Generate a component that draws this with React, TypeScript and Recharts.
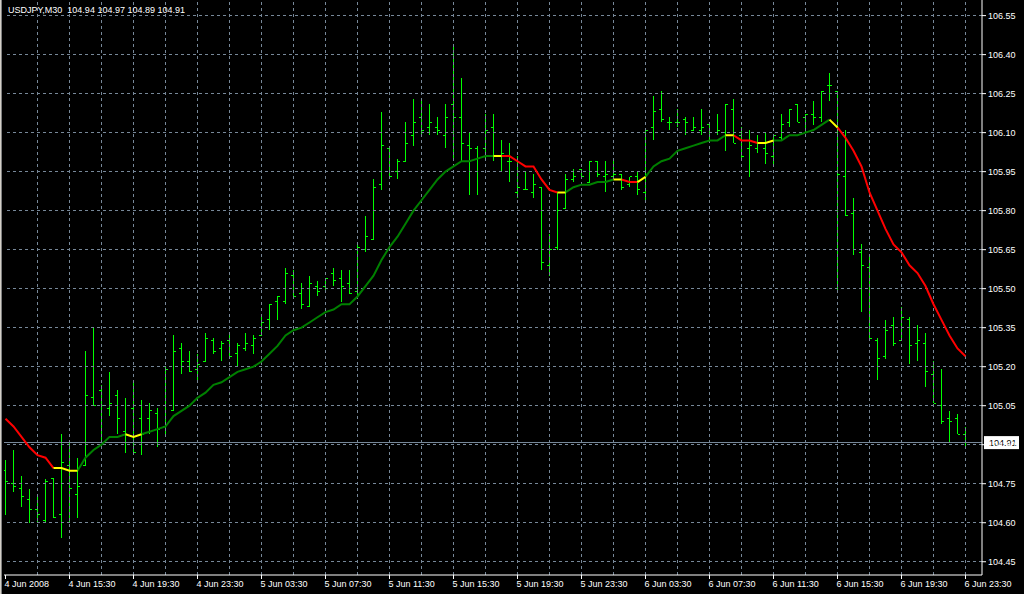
import React from "react";
import { ComposedChart, Bar, Line, XAxis, YAxis, ReferenceLine } from "recharts";

const symbol = "USDJPY,M30";

// 30-minute bars, 4 Jun 2008 11:30 .. 6 Jun 2008 23:30
const opens = [
  104.8, 104.75, 104.73, 104.69, 104.65, 104.61, 104.77, 104.63, 104.82, 104.71,
  104.82, 105.08, 105.11, 105.04, 105.09, 104.95, 105.04, 105.0, 105.0, 105.02,
  104.97, 105.03, 105.27, 105.22, 105.19, 105.22, 105.3, 105.27, 105.3, 105.25,
  105.27, 105.28, 105.32, 105.38, 105.45, 105.45, 105.55, 105.48, 105.43, 105.51,
  105.51, 105.56, 105.54, 105.52, 105.49, 105.65, 105.69, 105.9, 106.04, 105.95,
  105.99, 106.09, 106.16, 106.12, 106.12, 106.09, 106.21, 106.16, 106.05, 106.04,
  106.04, 106.12, 106.01, 105.99, 105.87, 105.88, 105.87, 105.89, 105.59, 105.66,
  105.81, 105.92, 105.96, 105.91, 105.99, 105.93, 105.93, 105.94, 105.9, 105.93,
  105.87, 106.12, 106.19, 106.14, 106.14, 106.15, 106.11, 106.11, 106.13, 106.1,
  106.1, 106.19, 106.09, 106.04, 106.04, 106.04, 106.01, 106.08, 106.14, 106.21,
  106.16, 106.17, 106.16, 106.28, 106.26, 105.93, 105.79, 105.64, 105.58, 105.3,
  105.24, 105.36, 105.3, 105.38, 105.29, 105.29, 105.17, 105.05, 105.0, 105.0,
  104.94,
];
const highs = [
  104.84, 104.88, 104.78, 104.73, 104.71, 104.77, 104.77, 104.94, 104.92, 104.85,
  105.26, 105.35, 105.13, 105.18, 105.11, 105.08, 105.15, 105.07, 105.06, 105.04,
  105.2, 105.32, 105.29, 105.26, 105.25, 105.33, 105.31, 105.3, 105.32, 105.29,
  105.33, 105.32, 105.4, 105.44, 105.47, 105.58, 105.57, 105.52, 105.55, 105.53,
  105.54, 105.58, 105.57, 105.57, 105.68, 105.78, 105.92, 106.18, 106.05, 106.0,
  106.14, 106.23, 106.22, 106.21, 106.16, 106.21, 106.43, 106.31, 106.1, 106.05,
  106.17, 106.17, 106.07, 106.06, 106.01, 105.95, 105.94, 105.89, 105.71, 105.87,
  105.94, 105.96, 105.96, 105.99, 105.99, 105.99, 105.99, 105.94, 105.93, 105.95,
  106.11, 106.24, 106.26, 106.16, 106.19, 106.16, 106.16, 106.19, 106.14, 106.17,
  106.21, 106.23, 106.12, 106.11, 106.09, 106.1, 106.09, 106.17, 106.19, 106.21,
  106.17, 106.22, 106.26, 106.33, 106.26, 106.11, 105.85, 105.67, 105.62, 105.31,
  105.38, 105.39, 105.43, 105.39, 105.36, 105.33, 105.22, 105.19, 105.03, 105.02,
  104.97,
];
const lows = [
  104.63, 104.72, 104.66, 104.6, 104.6, 104.6, 104.62, 104.54, 104.6, 104.62,
  104.82, 105.05, 104.91, 105.01, 104.94, 104.87, 104.86, 104.86, 104.94, 104.89,
  104.94, 105.03, 105.17, 105.18, 105.14, 105.22, 105.25, 105.22, 105.23, 105.2,
  105.26, 105.25, 105.32, 105.34, 105.38, 105.44, 105.47, 105.42, 105.43, 105.47,
  105.49, 105.51, 105.45, 105.48, 105.46, 105.64, 105.69, 105.88, 105.93, 105.92,
  105.99, 106.05, 106.09, 106.09, 106.09, 106.04, 105.99, 105.99, 105.86, 105.86,
  106.0, 105.99, 105.95, 105.91, 105.85, 105.88, 105.85, 105.57, 105.55, 105.65,
  105.81, 105.91, 105.92, 105.91, 105.93, 105.87, 105.92, 105.88, 105.89, 105.86,
  105.83, 106.07, 106.14, 106.11, 106.12, 106.09, 106.11, 106.09, 106.07, 106.09,
  106.03, 106.06, 106.0, 105.93, 106.02, 105.98, 105.97, 106.07, 106.12, 106.14,
  106.1, 106.13, 106.14, 106.22, 105.49, 105.78, 105.63, 105.41, 105.3, 105.15,
  105.23, 105.28, 105.3, 105.21, 105.22, 105.12, 105.06, 104.98, 104.91, 104.94,
  104.89,
];
const closes = [
  104.76, 104.74, 104.7, 104.65, 104.63, 104.76, 104.62, 104.83, 104.73, 104.74,
  105.09, 105.05, 105.05, 105.06, 105.0, 104.94, 104.87, 104.94, 105.03, 104.96,
  105.19, 105.26, 105.22, 105.18, 105.21, 105.31, 105.26, 105.29, 105.24, 105.28,
  105.29, 105.31, 105.37, 105.44, 105.47, 105.56, 105.47, 105.44, 105.52, 105.49,
  105.54, 105.53, 105.51, 105.48, 105.66, 105.7, 105.89, 106.05, 105.93, 105.99,
  106.06, 106.14, 106.11, 106.14, 106.11, 106.16, 106.16, 106.06, 106.04, 106.0,
  106.11, 106.01, 106.02, 105.99, 105.89, 105.88, 105.9, 105.6, 105.65, 105.8,
  105.92, 105.93, 105.93, 105.99, 105.94, 105.94, 105.94, 105.89, 105.93, 105.88,
  106.11, 106.18, 106.15, 106.14, 106.14, 106.14, 106.12, 106.12, 106.1, 106.11,
  106.21, 106.06, 106.01, 106.05, 106.06, 106.02, 106.09, 106.13, 106.19, 106.14,
  106.17, 106.16, 106.26, 106.28, 105.94, 105.78, 105.65, 105.59, 105.31, 105.23,
  105.34, 105.29, 105.39, 105.28, 105.3, 105.18, 105.06, 104.99, 104.99, 104.94,
  104.91,
];

// smoothed moving average, coloured by slope
const ma = [
  105.0, 104.97, 104.93, 104.89, 104.86, 104.85, 104.81, 104.81, 104.8, 104.8,
  104.85, 104.88, 104.9, 104.93, 104.93, 104.94, 104.93, 104.94, 104.95, 104.96,
  104.97, 105.01, 105.03, 105.05, 105.08, 105.1, 105.13, 105.14, 105.16, 105.18,
  105.19, 105.2, 105.22, 105.25, 105.28, 105.32, 105.34, 105.35, 105.37, 105.39,
  105.41, 105.42, 105.44, 105.44, 105.47, 105.51, 105.55, 105.61, 105.66, 105.7,
  105.75, 105.8, 105.84, 105.88, 105.92, 105.95, 105.97, 105.99, 105.99, 106.0,
  106.01, 106.01, 106.01, 106.01, 105.99, 105.97, 105.97, 105.92, 105.88, 105.87,
  105.87, 105.89, 105.9, 105.9, 105.91, 105.91, 105.92, 105.92, 105.91, 105.91,
  105.93, 105.97, 105.99, 106.0, 106.03, 106.04, 106.05, 106.06, 106.07, 106.07,
  106.09, 106.09, 106.07, 106.07, 106.06, 106.06, 106.07, 106.07, 106.09, 106.09,
  106.1, 106.11, 106.13, 106.15, 106.12, 106.08, 106.03, 105.97, 105.87, 105.8,
  105.73, 105.67, 105.64, 105.59, 105.56, 105.51, 105.44, 105.38, 105.32, 105.27,
  105.24,
];
// [colour, first bar, last bar]
const maSpans: [string, number, number][] = [
  ["red", 0, 6], ["yellow", 6, 9], ["green", 9, 15], ["yellow", 15, 17],
  ["green", 17, 61], ["yellow", 61, 62], ["red", 62, 69], ["yellow", 69, 70],
  ["green", 70, 76], ["yellow", 76, 77], ["red", 77, 79], ["yellow", 79, 80],
  ["green", 80, 90], ["yellow", 90, 91], ["red", 91, 94], ["yellow", 94, 96],
  ["green", 96, 103], ["yellow", 103, 104], ["red", 104, 120],
];

const timeLabels = [
  "4 Jun 2008", "4 Jun 15:30", "4 Jun 19:30", "4 Jun 23:30",
  "5 Jun 03:30", "5 Jun 07:30", "5 Jun 11:30", "5 Jun 15:30",
  "5 Jun 19:30", "5 Jun 23:30", "6 Jun 03:30", "6 Jun 07:30",
  "6 Jun 11:30", "6 Jun 15:30", "6 Jun 19:30", "6 Jun 23:30",
];
const priceTicks = [
  104.45, 104.6, 104.75, 104.9, 105.05, 105.2, 105.35, 105.5,
  105.65, 105.8, 105.95, 106.1, 106.25, 106.4, 106.55,
];

const FONT = "'Liberation Sans', Arial, sans-serif";
const GRID = "#778899";
const BAR = "#00ff00";

const maPart = (col: string, i: number) =>
  maSpans.some(([c, a, b]) => c === col && i >= a && i <= b) ? ma[i] : null;

const data = opens.map((o, i) => ({
  i,
  o,
  h: highs[i],
  l: lows[i],
  c: closes[i],
  range: [lows[i], highs[i]],
  maGreen: maPart("green", i),
  maRed: maPart("red", i),
  maYellow: maPart("yellow", i),
}));

const last = data[data.length - 1];
const labelStep = 8;
const gridBars = Array.from({ length: 30 }, (_, k) => (k + 1) * 4);

const OhlcBar = (props: any) => {
  const { x, y, width, height, payload } = props;
  const top = Math.min(y, y + height);
  const bot = Math.max(y, y + height);
  const { o, h, l, c } = payload;
  const py = (p: number) => (h === l ? top : bot - ((p - l) / (h - l)) * (bot - top));
  const cx = Math.floor(x + width / 2) + 0.5;
  return (
    <g stroke={BAR} strokeWidth={1} shapeRendering="crispEdges">
      <line x1={cx} x2={cx} y1={top} y2={bot} />
      <line x1={cx - 2.5} x2={cx} y1={py(o)} y2={py(o)} />
      <line x1={cx} x2={cx + 2.5} y1={py(c)} y2={py(c)} />
    </g>
  );
};

const TimeTick = (props: any) => {
  const { x, y, payload } = props;
  return (
    <text x={x - 1} y={y + 8} fill="#fff" fontSize={9} fontFamily={FONT} textAnchor="start">
      {timeLabels[payload.value / labelStep]}
    </text>
  );
};

const PriceTag = (props: any) => {
  const vb = props.viewBox;
  if (!vb) return null;
  const right = vb.x + vb.width;
  return (
    <g>
      <rect x={right + 2} y={vb.y - 6} width={35} height={13} fill="#fff" />
      <text x={right + 7} y={vb.y + 4} fill="#000" fontSize={9} fontFamily={FONT}>
        {last.c.toFixed(2)}
      </text>
    </g>
  );
};

export default function App() {
  return (
    <div style={{ position: "relative", width: 1024, height: 594, background: "#000", overflow: "hidden" }}>
      <style>{"body{margin:0;background:#000}"}</style>
      <ComposedChart
        width={1024}
        height={594}
        data={data}
        margin={{ top: 0, right: 0, bottom: 0, left: 4 }}
      >
        <XAxis
          dataKey="i"
          type="number"
          domain={[-0.1875, 122.0625]}
          allowDataOverflow
          ticks={timeLabels.map((_, k) => k * labelStep)}
          interval={0}
          height={19}
          tickSize={4}
          tickMargin={0}
          axisLine={{ stroke: "#fff" }}
          tickLine={{ stroke: "#fff" }}
          tick={<TimeTick />}
        />
        <YAxis
          orientation="right"
          type="number"
          domain={[104.399, 106.61]}
          allowDataOverflow
          ticks={priceTicks}
          interval={0}
          width={42}
          tickSize={4}
          tickMargin={2}
          axisLine={{ stroke: "#fff" }}
          tickLine={{ stroke: "#fff" }}
          tick={{ fill: "#fff", fontSize: 9, fontFamily: FONT }}
          tickFormatter={(v: number) => v.toFixed(2)}
        />
        {priceTicks.map((p) => (
          <ReferenceLine key={"h" + p} y={p} stroke={GRID} strokeDasharray="3 3" shapeRendering="crispEdges" />
        ))}
        {gridBars.map((b) => (
          <ReferenceLine key={"v" + b} x={b} stroke={GRID} strokeDasharray="3 3" shapeRendering="crispEdges" />
        ))}
        <ReferenceLine
          y={last.c}
          stroke={GRID}
          shapeRendering="crispEdges"
          label={(p: any) => <PriceTag {...p} />}
        />
        <Bar dataKey="range" barSize={6} shape={<OhlcBar />} isAnimationActive={false} />
        <Line type="linear" dataKey="maGreen" stroke="#008000" strokeWidth={2} dot={false} activeDot={false} isAnimationActive={false} />
        <Line type="linear" dataKey="maRed" stroke="#ff0000" strokeWidth={2} dot={false} activeDot={false} isAnimationActive={false} />
        <Line type="linear" dataKey="maYellow" stroke="#ffff00" strokeWidth={2} dot={false} activeDot={false} isAnimationActive={false} />
      </ComposedChart>
      <div
        style={{
          position: "absolute",
          left: 8,
          top: 5,
          color: "#fff",
          fontFamily: FONT,
          fontSize: 9,
          lineHeight: "10px",
          whiteSpace: "pre",
        }}
      >
        {`${symbol}  ${last.o.toFixed(2)} ${last.h.toFixed(2)} ${last.l.toFixed(2)} ${last.c.toFixed(2)}`}
      </div>
      <div style={{ position: "absolute", left: 0, top: 0, width: 1, height: 594, background: "#d4d0c8" }} />
      <div style={{ position: "absolute", left: 1, top: 0, width: 1, height: 594, background: "#808080" }} />
    </div>
  );
}
